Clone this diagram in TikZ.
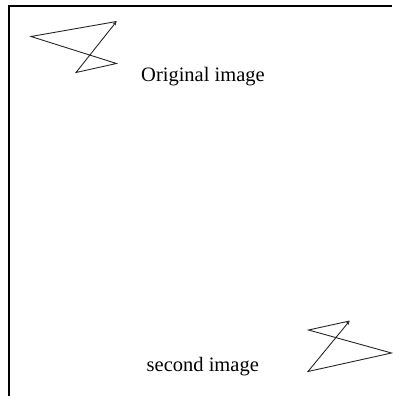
\documentclass[tikz,border=0pt]{standalone}
\usepackage{fontspec}
\setmainfont{Liberation Serif}
\usetikzlibrary{arrows.meta}
\begin{document}
\begin{tikzpicture}[x=1pt,y=-1pt,
  frame/.style={line width=2pt,black},
  zig/.style={line width=0.9pt,black!85,line join=miter,-{Stealth[length=4pt,width=3.5pt]}},
  lbl/.style={font=\fontsize{20.5}{24}\selectfont,inner sep=0pt,anchor=base west}]
\useasboundingbox (0,0) rectangle (392,396);
% frame
\coordinate (fTL) at (9,6.5);
\coordinate (fTR) at (392,6.5);
\coordinate (fBL) at (9,396);
\draw[frame] (fTR) -- (fTL) -- (fBL);
% first shape
\coordinate (aTR) at (116.5,21.5);
\coordinate (aL) at (31,36.5);
\coordinate (aR) at (116.5,63.5);
\coordinate (aBL) at (76,72.5);
\draw[zig] (aTR) -- (aL) -- (aR) -- (aBL) -- (aTR);
% second shape
\coordinate (bTR) at (349.5,321);
\coordinate (bL) at (308.5,330);
\coordinate (bR) at (391.5,353);
\coordinate (bBL) at (308,371.5);
\draw[zig] (bTR) -- (bL) -- (bR) -- (bBL) -- (bTR);
% labels
\node[lbl] (orig) at (141,81.7) {Original image};
\node[lbl] (second) at (146.5,371.7) {second image};
\end{tikzpicture}
\end{document}
